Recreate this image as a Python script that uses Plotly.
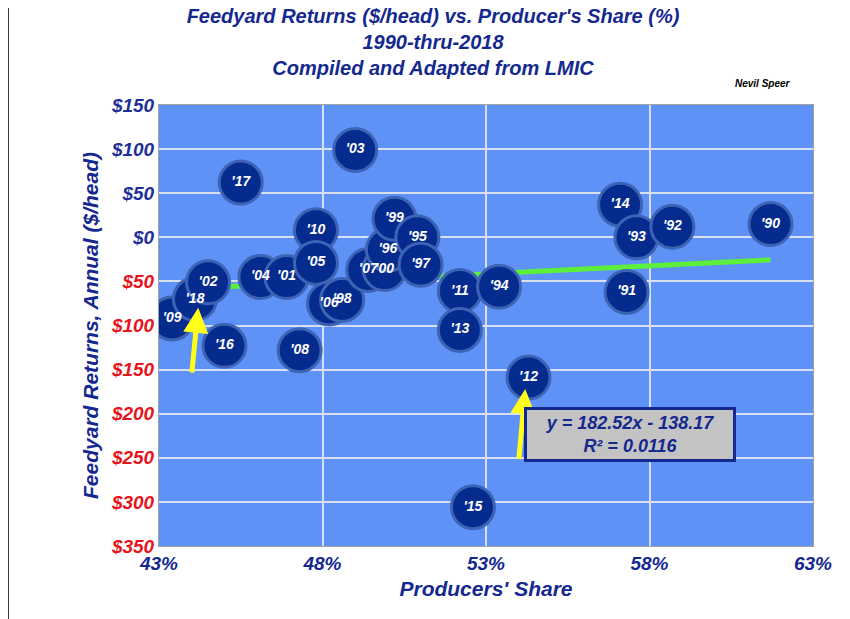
import plotly.graph_objects as go

# producer's share (%) vs feedyard returns ($/head)
years = ["'09", "'18", "'02", "'16", "'17", "'04", "'01", "'08", "'10", "'05",
         "'06", "'98", "'03", "'07", "'00", "'96", "'99", "'95", "'97", "'11",
         "'13", "'94", "'15", "'12", "'14", "'93", "'91", "'92", "'90"]
share = [43.4, 44.1, 44.5, 45.0, 45.5, 46.1, 46.9, 47.3, 47.8, 47.8,
         48.2, 48.6, 49.0, 49.4, 49.9, 50.0, 50.2, 50.9, 51.0, 52.2,
         52.2, 53.4, 52.6, 54.3, 57.1, 57.6, 57.3, 58.7, 61.7]
returns = [-92, -70, -51, -123, 62, -45, -45, -128, 8, -29,
           -75, -71, 99, -37, -36, -14, 21, 0, -31, -61,
           -105, -56, -306, -159, 37, 0, -62, 12, 15]
slope, intercept = 182.52, -138.17

y_ticks = list(range(150, -351, -50))
y_labels = [f"<span style='color:{'#1f2f9a' if v >= 0 else '#e8141b'}'>${abs(v)}</span>" for v in y_ticks]
x_ticks = [43, 48, 53, 58, 63]

NAVY = "#14288f"
FONT = "Liberation Sans"

fig = go.Figure()

trend_x = [min(share) + 0.8, max(share)]
fig.add_trace(go.Scatter(
    x=trend_x, y=[slope * v / 100 + intercept for v in trend_x],
    mode="lines", line=dict(color="#5df03a", width=5), hoverinfo="skip"))

fig.add_trace(go.Scatter(
    x=share, y=returns, mode="markers+text", text=[f"<b><i>{y}</i></b>" for y in years],
    marker=dict(size=43, color="#062b8f", line=dict(color="#3d63b5", width=3)),
    textfont=dict(color="white", size=14, family=FONT),
    textposition="middle center"))

# yellow arrows pointing at '18 and '12
for tx, ty, fx, fy in [(44.2, -80, 44.0, -155), (54.2, -172, 54.0, -253)]:
    fig.add_annotation(x=tx, y=ty, ax=fx, ay=fy, axref="x", ayref="y",
                       xref="x", yref="y", text="", showarrow=True,
                       arrowhead=2, arrowsize=1, arrowwidth=5, arrowcolor="#ffff1a")

fig.add_annotation(x=57.4, y=-224, xref="x", yref="y", showarrow=False,
                   text="<b><i>y = 182.52x - 138.17<br>R² = 0.0116</i></b>",
                   font=dict(size=18, color=NAVY, family=FONT),
                   bgcolor="#c3c3c3", bordercolor=NAVY, borderwidth=3,
                   borderpad=3, width=200)

fig.add_annotation(x=0.97, y=1.065, xref="paper", yref="paper", showarrow=False,
                   text="<b><i>Nevil Speer</i></b>", font=dict(size=10, color="black", family=FONT))

# outer black frame
fig.add_shape(type="rect", xref="paper", yref="paper",
              x0=-0.232, x1=1.047, y0=-0.186, y1=1.233,
              line=dict(color="black", width=3))

fig.update_layout(
    width=850, height=619,
    margin=dict(l=151, r=45, t=97, b=81),
    paper_bgcolor="white", plot_bgcolor="#5f92f7",
    showlegend=False,
    title=dict(text="<b><i>Feedyard Returns ($/head) vs. Producer's Share (%)<br>1990-thru-2018<br>Compiled and Adapted from LMIC</i></b>",
               x=0.5, xanchor="center", y=0.975, yanchor="top",
               font=dict(size=20, color=NAVY, family=FONT)),
)
fig.update_xaxes(range=[43, 63], tickvals=x_ticks, ticktext=[f"<b><i>{v}%</i></b>" for v in x_ticks],
                 showgrid=True, gridcolor="#d8dff0", gridwidth=1.5, zeroline=False,
                 showline=True, linecolor="#a0a0a0", mirror=True,
                 tickfont=dict(size=19, color=NAVY, family=FONT),
                 title=dict(text="<b><i>Producers' Share</i></b>",
                            font=dict(size=21, color=NAVY, family=FONT), standoff=8))
fig.update_yaxes(range=[-350, 150], tickvals=y_ticks, ticktext=[f"<b><i>{t}</i></b>" for t in y_labels],
                 showgrid=True, gridcolor="#d8dff0", gridwidth=1.5, zeroline=False,
                 showline=True, linecolor="#a0a0a0", mirror=True,
                 tickfont=dict(size=19, color=NAVY, family=FONT),
                 title=dict(text="<b><i>Feedyard Returns, Annual ($/head)</i></b>",
                            font=dict(size=21, color=NAVY, family=FONT), standoff=6))

fig.write_html("out.html")
